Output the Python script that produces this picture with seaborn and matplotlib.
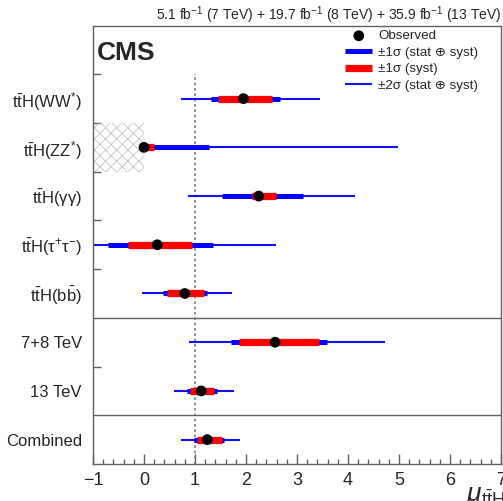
import pandas as pd
import matplotlib
matplotlib.use('Agg')
import matplotlib.pyplot as plt
import seaborn as sns
from matplotlib.ticker import MultipleLocator

# channels, top to bottom
labels = [r'$\mathrm{t\bar{t}H(WW^{*})}$', r'$\mathrm{t\bar{t}H(ZZ^{*})}$',
          r'$\mathrm{t\bar{t}H(\gamma\gamma)}$', r'$\mathrm{t\bar{t}H(\tau^{+}\tau^{-})}$',
          r'$\mathrm{t\bar{t}H(b\bar{b})}$', '7+8 TeV', '13 TeV', 'Combined']
positions = [7.5, 6.5, 5.5, 4.5, 3.5, 2.5, 1.5, 0.5]
best_fit = [1.95, 0.00, 2.25, 0.26, 0.80, 2.57, 1.12, 1.24]
tot2_lo = [0.72, 0.00, 0.86, -1.20, -0.04, 0.88, 0.59, 0.73]
tot2_hi = [3.46, 4.98, 4.14, 2.59, 1.72, 4.73, 1.76, 1.88]
tot1_lo = [1.31, 0.00, 1.52, -0.71, 0.37, 1.70, 0.85, 0.98]
tot1_hi = [2.67, 1.28, 3.12, 1.35, 1.24, 3.59, 1.43, 1.57]
syst_lo = [1.46, 0.00, 2.11, -0.31, 0.45, 1.86, 0.90, 1.04]
syst_hi = [2.51, 0.20, 2.58, 0.94, 1.18, 3.43, 1.37, 1.53]

df = pd.DataFrame({'label': labels, 'pos': positions, 'mu': best_fit,
                   'lo2': tot2_lo, 'hi2': tot2_hi, 'lo1': tot1_lo, 'hi1': tot1_hi,
                   'slo': syst_lo, 'shi': syst_hi})

sns.set_style('white')
plt.rcParams['font.family'] = ['Liberation Sans', 'DejaVu Sans']
plt.rcParams['mathtext.fontset'] = 'custom'
plt.rcParams['mathtext.rm'] = 'Liberation Sans'
plt.rcParams['mathtext.it'] = 'Liberation Sans:italic'
plt.rcParams['mathtext.bf'] = 'Liberation Sans:bold'
plt.rcParams['hatch.linewidth'] = 0.6

fig = plt.figure(figsize=(5.03, 5.01), dpi=100)
ax = fig.add_axes([0.1849, 0.0739, 0.8111, 0.8751])

frame = '#606060'

# ttH(ZZ*) excluded region
ax.fill_betweenx([6, 7], -1, 0, facecolor='none', edgecolor='#c4c4c4',
                 hatch='xxx', linewidth=0)

# SM expectation
ax.vlines(1, 0, 8, colors='#808080', linestyles=(0, (1.6, 1.6)), linewidth=1.2)

ax.hlines(df['pos'], df['lo2'], df['hi2'], colors='#1010ff', linewidth=1.5,
          label='±2σ (stat ⊕ syst)')
ax.hlines(df['pos'], df['lo1'], df['hi1'], colors='#0000ff', linewidth=3.6,
          label='±1σ (stat ⊕ syst)')
ax.hlines(df['pos'], df['slo'], df['shi'], colors='#ff0000', linewidth=5.2,
          label='±1σ (syst)')
sns.scatterplot(data=df, x='mu', y='pos', color='black', s=60, edgecolor='none',
                zorder=5, label='Observed', ax=ax)

ax.axhline(1, color=frame, linewidth=1.0)
ax.axhline(3, color=frame, linewidth=1.0)

ax.set_xlim(-1, 7)
ax.set_ylim(0, 9)
ax.set_xlabel('')
ax.set_ylabel('')

ax.xaxis.set_major_locator(MultipleLocator(1))
ax.xaxis.set_minor_locator(MultipleLocator(0.2))
ax.tick_params(axis='x', which='major', direction='in', length=7, width=1,
               color=frame, labelsize=13, pad=6, bottom=True)
ax.tick_params(axis='x', which='minor', direction='in', length=3.5, width=1,
               color=frame, bottom=True)

ax.set_yticks([2, 4, 5, 6, 7, 8])
ax.set_yticklabels([])
ax.set_yticks(df['pos'], df['label'], minor=True)
ax.tick_params(axis='y', which='major', direction='in', length=6, width=1,
               color=frame, left=True)
ax.tick_params(axis='y', which='minor', length=0, pad=8, labelsize=12)

for s in ax.spines.values():
    s.set_color(frame)
    s.set_linewidth(1.0)

ax.text(0.01, 0.965, 'CMS', transform=ax.transAxes, fontsize=19,
        fontweight='bold', ha='left', va='top')

h, l = ax.get_legend_handles_labels()
order = [3, 1, 2, 0]
ax.legend([h[i] for i in order], [l[i] for i in order], loc='upper left',
          bbox_to_anchor=(0.618, 0.99), frameon=False, fontsize=9.6,
          handlelength=2.05, handletextpad=0.45, labelspacing=0.32,
          borderpad=0, borderaxespad=0)

fig.text(0.996, 1 - 19.5 / 501,
         r'5.1 fb$^{-1}$ (7 TeV) + 19.7 fb$^{-1}$ (8 TeV) + 35.9 fb$^{-1}$ (13 TeV)',
         ha='right', va='baseline', fontsize=10)
fig.text(0.926, 0.0, r'$\mu_{\mathrm{t\bar{t}H}}$', ha='left', va='baseline',
         fontsize=19)

fig.savefig('out.png', dpi=100)
